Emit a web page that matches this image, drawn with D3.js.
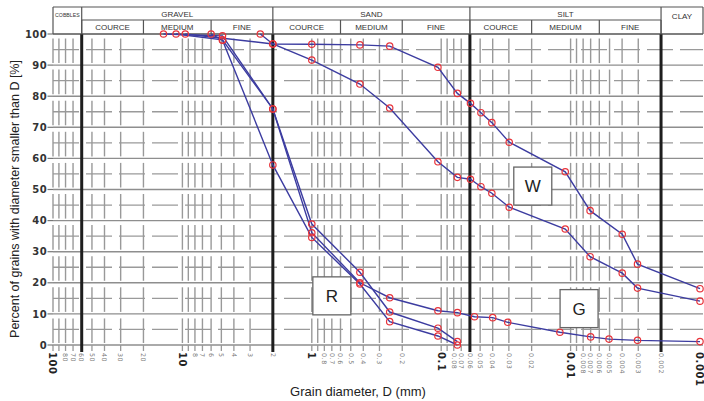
<!DOCTYPE html>
<html><head><meta charset="utf-8">
<script src="https://cdn.jsdelivr.net/npm/d3@7"></script>
<style>body{margin:0;background:#fff}svg{display:block}</style>
</head><body><svg id="c" width="704" height="401"></svg>
<script>
// ---- tick / grid definitions ----
const majorTicks = [100, 10, 1, 0.1, 0.01, 0.001];
const minorTickLabels = [80,70,60,50,40,30,20,8,7,6,5,4,3,2,0.8,0.7,0.6,0.5,0.4,0.3,0.2,0.08,0.07,0.06,0.05,0.04,0.03,0.02,0.008,0.007,0.006,0.005,0.004,0.003,0.002];
const gridDiameters = [100,90,80,70,50,40,30,20,10,9,8,7,6,5,4,3,1,0.9,0.8,0.7,0.6,0.5,0.4,0.3,0.2,0.1,0.09,0.08,0.07,0.05,0.04,0.03,0.02,0.01,0.009,0.008,0.007,0.006,0.005,0.004,0.003];
const boundaryDiameters = [60, 2, 0.06, 0.002];
const yTicks = [0,10,20,30,40,50,60,70,80,90,100];
const yHalf = [5,15,25,35,45,55,65,75,85,95];

// ---- header classes ----
const mainClasses = ["GRAVEL", "SAND", "SILT"];
const mainBounds = [[60, 2], [2, 0.06], [0.06, 0.002]];
const subClasses = ["COURCE", "MEDIUM", "FINE", "COURCE", "MEDIUM", "FINE", "COURCE", "MEDIUM", "FINE"];
const subBounds = [60, 20, 6, 2, 0.6, 0.2, 0.06, 0.02, 0.006, 0.002];
const sideClasses = ["COBBLES", "CLAY"];
const sideBounds = [[100, 60], [0.002, 0.001]];

// ---- grading curves: diameter (mm) and percent passing ----
const r1D = [14, 4.9, 2, 1, 0.425, 0.25, 0.106, 0.075];
const r1P = [100, 99.4, 75.9, 38.9, 23.4, 10.6, 5.4, 1.1];
const r2D = [11.2, 4.9, 2, 1, 0.425, 0.25, 0.106, 0.075, 0.0553, 0.040, 0.0306, 0.0121, 0.0070, 0.00505, 0.00304, 0.001];
const r2P = [100, 98.1, 75.9, 36.1, 20.0, 15.2, 11.0, 10.4, 9.1, 8.8, 7.3, 4.1, 2.6, 1.9, 1.5, 1.1];
const r3D = [6.0, 4.9, 2, 1, 0.425, 0.25, 0.106, 0.075];
const r3P = [100, 98.0, 57.9, 34.6, 19.6, 7.5, 2.9, 0];
const w1D = [9.5, 2, 1, 0.425, 0.25, 0.106, 0.075, 0.0594, 0.0493, 0.0406, 0.0298, 0.0110, 0.00707, 0.00399, 0.00304, 0.001];
const w1P = [100, 96.8, 96.7, 96.5, 96.1, 89.3, 80.9, 77.7, 74.7, 71.5, 65.2, 55.7, 43.2, 35.6, 26.0, 18.1];
const w2D = [2.5, 2, 1, 0.425, 0.25, 0.106, 0.075, 0.0594, 0.0493, 0.0406, 0.0298, 0.0110, 0.00707, 0.00399, 0.00304, 0.001];
const w2P = [100, 96.8, 91.6, 83.9, 76.2, 58.9, 53.9, 53.3, 50.9, 48.8, 44.3, 37.3, 28.4, 23.1, 18.3, 14.1];

// ---- annotation labels (anchored in data space) ----
const noteText = ["W", "R", "G"];
const noteD = [0.0196, 0.70, 0.0086];
const noteP = [51.1, 15.8, 11.7];

const svg = d3.select("#c");
const x = d3.scaleLog().domain([100, 0.001]).range([53, 700]);
const y = d3.scaleLinear().domain([0, 100]).range([345, 34]);
const X0 = 53, X1 = 703, HT = 7, HM = 20, HB = y(100);

const g = svg.append("g");

// horizontal 10% lines
g.selectAll(".h10").data(yTicks).join("line")
  .attr("x1", X0).attr("x2", X1).attr("y1", d => y(d)).attr("y2", d => y(d))
  .attr("stroke", "#8e8e8e").attr("stroke-width", 1.4);
// dashed 5% lines
g.selectAll(".h5").data(yHalf).join("line")
  .attr("x1", X0).attr("x2", X1).attr("y1", d => y(d)).attr("y2", d => y(d))
  .attr("stroke", "#9a9a9a").attr("stroke-width", 1.3).attr("stroke-dasharray", "26,7");

// vertical broken segments
const segs = [];
gridDiameters.forEach(dm => { for (let i = 0; i < 10; i++) segs.push({dm, top: (i + 1) * 10, bot: i * 10}); });
g.selectAll(".vs").data(segs).join("line")
  .attr("x1", d => x(d.dm)).attr("x2", d => x(d.dm))
  .attr("y1", d => y(d.top) + 4.5).attr("y2", d => y(d.bot) - 2)
  .attr("stroke", "#999").attr("stroke-width", 1.4);

// bottom tick marks
g.selectAll(".bt").data(gridDiameters.concat(boundaryDiameters)).join("line")
  .attr("x1", d => x(d)).attr("x2", d => x(d)).attr("y1", y(0)).attr("y2", y(0) + 6)
  .attr("stroke", "#999").attr("stroke-width", 1.3);

// thick boundary lines
g.selectAll(".bd").data(boundaryDiameters).join("line")
  .attr("x1", d => x(d)).attr("x2", d => x(d)).attr("y1", HB).attr("y2", y(0) + 7)
  .attr("stroke", "#1e1e1e").attr("stroke-width", 3);

// y axis ticks and labels
g.selectAll(".yt").data(yTicks).join("line")
  .attr("x1", 47.5).attr("x2", X0).attr("y1", d => y(d)).attr("y2", d => y(d))
  .attr("stroke", "#777").attr("stroke-width", 1.2);
g.selectAll(".yl").data(yTicks).join("text")
  .attr("x", 47).attr("y", d => y(d)).attr("dy", "0.36em")
  .attr("text-anchor", "end").attr("font-family", "DejaVu Sans").attr("font-weight", "bold")
  .attr("font-size", 10).attr("letter-spacing", 0.4).attr("fill", "#333").text(d => d);

// x tick labels (rotated)
g.selectAll(".xm").data(minorTickLabels).join("text")
  .attr("transform", d => `translate(${x(d)},${y(0) + 8}) rotate(90)`)
  .attr("dy", "0.35em").attr("font-family", "DejaVu Sans").attr("font-size", 6.3)
  .attr("letter-spacing", 0.6).attr("fill", "#777").text(d => String(d));
g.selectAll(".xM").data(majorTicks).join("text")
  .attr("transform", d => `translate(${x(d)},${y(0) + 7}) rotate(90)`)
  .attr("dy", "0.36em").attr("font-family", "DejaVu Sans").attr("font-weight", "bold").attr("font-size", 10)
  .attr("letter-spacing", 0.6).attr("fill", "#222").text(d => String(d));

// header table
const hdr = svg.append("g").attr("font-family", "Liberation Sans, Arial, sans-serif").attr("fill", "#333");
hdr.append("line").attr("x1", X0).attr("x2", X1).attr("y1", HT).attr("y2", HT).attr("stroke", "#555").attr("stroke-width", 1.2);
hdr.append("line").attr("x1", x(60)).attr("x2", x(0.002)).attr("y1", HM).attr("y2", HM).attr("stroke", "#555").attr("stroke-width", 1.2);
hdr.append("line").attr("x1", X0).attr("x2", X1).attr("y1", HB).attr("y2", HB).attr("stroke", "#555").attr("stroke-width", 1.2);
const fullV = [100, 60, 2, 0.06, 0.002];
hdr.selectAll(".fv").data(fullV).join("line")
  .attr("x1", d => x(d)).attr("x2", d => x(d)).attr("y1", HT).attr("y2", HB).attr("stroke", "#555").attr("stroke-width", 1.2);
hdr.append("line").attr("x1", X1).attr("x2", X1).attr("y1", HT).attr("y2", HB).attr("stroke", "#555").attr("stroke-width", 1.2);
hdr.selectAll(".sv").data(subBounds).join("line")
  .attr("x1", d => x(d)).attr("x2", d => x(d)).attr("y1", HM).attr("y2", HB).attr("stroke", "#555").attr("stroke-width", 1.2);
hdr.selectAll(".mt").data(mainClasses).join("text")
  .attr("x", (d, i) => (x(mainBounds[i][0]) + x(mainBounds[i][1])) / 2).attr("y", 16.5)
  .attr("text-anchor", "middle").attr("font-size", 8).text(d => d);
hdr.selectAll(".st").data(subClasses).join("text")
  .attr("x", (d, i) => (x(subBounds[i]) + x(subBounds[i + 1])) / 2).attr("y", 30)
  .attr("text-anchor", "middle").attr("font-size", 8).text(d => d);
hdr.append("text").attr("x", (x(sideBounds[0][0]) + x(sideBounds[0][1])) / 2).attr("y", 17)
  .attr("text-anchor", "middle").attr("font-size", 5.2).text(sideClasses[0]);
hdr.append("text").attr("x", (x(sideBounds[1][0]) + X1) / 2).attr("y", 19)
  .attr("text-anchor", "middle").attr("font-size", 8).text(sideClasses[1]);

// curves
const series = [[r1D, r1P], [r2D, r2P], [r3D, r3P], [w1D, w1P], [w2D, w2P]].map(([ds, ps]) => ds.map((d, i) => ({d, p: ps[i]})));
const line = d3.line().x(v => x(v.d)).y(v => y(v.p));
const cg = svg.append("g");
cg.selectAll(".ln").data(series).join("path")
  .attr("d", line).attr("fill", "none").attr("stroke", "#3c3ca0").attr("stroke-width", 1.4);
cg.selectAll(".pts").data(series.flat()).join("circle")
  .attr("cx", v => x(v.d)).attr("cy", v => y(v.p)).attr("r", 3.2)
  .attr("fill", "none").attr("stroke", "#e8333a").attr("stroke-width", 1.2);

// label boxes
const ng = svg.append("g").selectAll("g").data(noteText).join("g")
  .attr("transform", (d, i) => `translate(${x(noteD[i])},${y(noteP[i])})`);
ng.append("rect").attr("x", -19).attr("y", -19).attr("width", 38).attr("height", 38)
  .attr("fill", "#fff").attr("stroke", "#666").attr("stroke-width", 1.3);
ng.append("text").attr("text-anchor", "middle").attr("dy", "0.36em")
  .attr("font-family", "Liberation Sans, Arial, sans-serif").attr("font-size", 17).attr("fill", "#222").text(d => d);

// axis titles
svg.append("text").attr("x", 358).attr("y", 396).attr("text-anchor", "middle")
  .attr("font-family", "Liberation Sans, Arial, sans-serif").attr("font-size", 13).attr("fill", "#222")
  .text("Grain diameter, D (mm)");
svg.append("text").attr("transform", "translate(19,199) rotate(-90)").attr("text-anchor", "middle")
  .attr("font-family", "Liberation Sans, Arial, sans-serif").attr("font-size", 12.5).attr("fill", "#222")
  .text("Percent of grains with diameter smaller than D [%]");
</script></body></html>
